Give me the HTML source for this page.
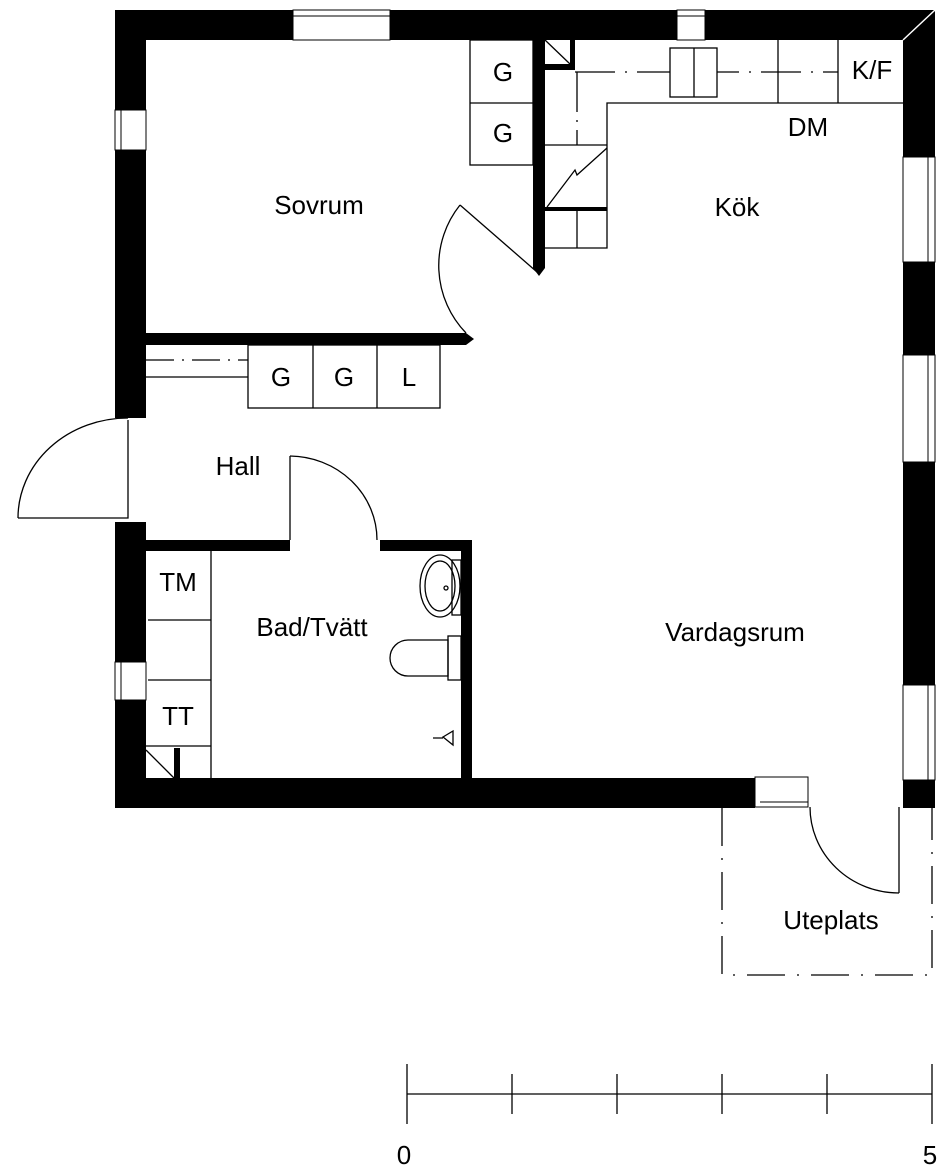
<!DOCTYPE html>
<html><head><style>html,body{margin:0;padding:0;background:#fff}svg{display:block}</style></head><body>
<svg width="950" height="1173" viewBox="0 0 950 1173" xmlns="http://www.w3.org/2000/svg" font-family="Liberation Sans, sans-serif" font-size="26">
<g fill="#000">
<rect x="115" y="10" width="820" height="30"/>
<rect x="115" y="10" width="31" height="408"/>
<rect x="115" y="522" width="31" height="286"/>
<rect x="115" y="778" width="640" height="30"/>
<rect x="903" y="10" width="32" height="798"/>
<path d="M146 333 H466 L474 339 L466 345 H146 Z"/>
<path d="M533 40 H545 V268 L539 276 L533 268 Z"/>
<rect x="146" y="540" width="144" height="11"/>
<rect x="380" y="540" width="92" height="11"/>
<rect x="461" y="540" width="11" height="240"/>
<rect x="545" y="64" width="30" height="6"/>
<rect x="570" y="40" width="5" height="30"/>
<rect x="545" y="207" width="62" height="4"/>
<rect x="174" y="748" width="6" height="32"/>
</g>
<g fill="#fff" stroke="#000" stroke-width="1">
<rect x="293" y="10" width="97" height="30"/><line x1="293" y1="16" x2="390" y2="16"/>
<rect x="677" y="10" width="28" height="30"/><line x1="677" y1="16" x2="705" y2="16"/>
<rect x="115" y="110" width="31" height="40"/><line x1="121" y1="110" x2="121" y2="150"/>
<rect x="115" y="662" width="31" height="38"/><line x1="121" y1="662" x2="121" y2="700"/>
<rect x="903" y="157" width="32" height="105"/><line x1="928" y1="157" x2="928" y2="262"/>
<rect x="903" y="355" width="32" height="107"/><line x1="928" y1="355" x2="928" y2="462"/>
<rect x="903" y="685" width="32" height="95"/><line x1="928" y1="685" x2="928" y2="780"/>
<rect x="755" y="777" width="53" height="30"/><line x1="760" y1="802" x2="808" y2="802"/>
</g>
<path d="M935 10 L903 40" stroke="#fff" stroke-width="1.5"/>
<g fill="none" stroke="#000" stroke-width="1.3">
<path d="M18 518 H128 V420"/>
<path d="M18 518 A110 100 0 0 1 128 418"/>
<path d="M460 205 L537 272"/>
<path d="M466 333 A97 97 0 0 1 460 205"/>
<path d="M290 540 V456"/>
<path d="M290 456 A88 84 0 0 1 377 540"/>
<path d="M899 807 V893"/>
<path d="M810 807 A89 86 0 0 0 899 893"/>
<rect x="470" y="40" width="63" height="125"/><line x1="470" y1="103" x2="533" y2="103"/>
<rect x="248" y="345" width="192" height="63"/><line x1="313" y1="345" x2="313" y2="408"/><line x1="377" y1="345" x2="377" y2="408"/>
<line x1="146" y1="377" x2="248" y2="377"/>
<line x1="146" y1="360" x2="248" y2="360" stroke-dasharray="28 8 2 8"/>
<line x1="545" y1="40" x2="570" y2="64"/>
<path d="M903 103 H607 V248 H545"/>
<line x1="778" y1="40" x2="778" y2="103"/><line x1="838" y1="40" x2="838" y2="103"/>
<line x1="575" y1="72" x2="838" y2="72" stroke-dasharray="40 10 2 10"/>
<rect x="670" y="48" width="47" height="49" fill="#fff"/><line x1="694" y1="48" x2="694" y2="97"/>
<line x1="577" y1="72" x2="577" y2="145" stroke-dasharray="40 8 2 8"/>
<line x1="545" y1="145" x2="607" y2="145"/>
<path d="M547 207 L575 170 L577 175 L607 148"/>
<line x1="577" y1="211" x2="577" y2="248"/>
<line x1="211" y1="551" x2="211" y2="778"/>
<line x1="148" y1="620" x2="211" y2="620"/>
<line x1="148" y1="680" x2="211" y2="680"/>
<line x1="146" y1="746" x2="211" y2="746"/>
<line x1="146" y1="750" x2="174" y2="778"/>
<rect x="452" y="560" width="9" height="55"/>
<ellipse cx="440" cy="586" rx="20" ry="31"/>
<ellipse cx="440" cy="586" rx="15" ry="25"/>
<circle cx="446" cy="588" r="2"/>
<rect x="448" y="636" width="13" height="44"/>
<path d="M448 640 H408 A18 18 0 0 0 408 676 H448 Z"/>
<path d="M443 737 l10 -6 v14 z M433 738 h10"/>
<path d="M722 808 V975 H932 V808" stroke-dasharray="38 12 2 12"/>
<line x1="407" y1="1094" x2="932" y2="1094"/>
<line x1="407" y1="1064" x2="407" y2="1124"/>
<line x1="512" y1="1074" x2="512" y2="1114"/>
<line x1="617" y1="1074" x2="617" y2="1114"/>
<line x1="722" y1="1074" x2="722" y2="1114"/>
<line x1="827" y1="1074" x2="827" y2="1114"/>
<line x1="932" y1="1064" x2="932" y2="1124"/>
</g>
<g fill="#000" text-anchor="middle">
<text x="319" y="214">Sovrum</text>
<text x="737" y="216">Kök</text>
<text x="808" y="136">DM</text>
<text x="872" y="79">K/F</text>
<text x="503" y="81">G</text>
<text x="503" y="142">G</text>
<text x="281" y="386">G</text>
<text x="344" y="386">G</text>
<text x="409" y="386">L</text>
<text x="238" y="475">Hall</text>
<text x="312" y="636">Bad/Tvätt</text>
<text x="735" y="641">Vardagsrum</text>
<text x="178" y="591">TM</text>
<text x="178" y="725">TT</text>
<text x="831" y="929">Uteplats</text>
<text x="404" y="1164">0</text>
<text x="930" y="1164">5</text>
</g>
</svg>
</body></html>
